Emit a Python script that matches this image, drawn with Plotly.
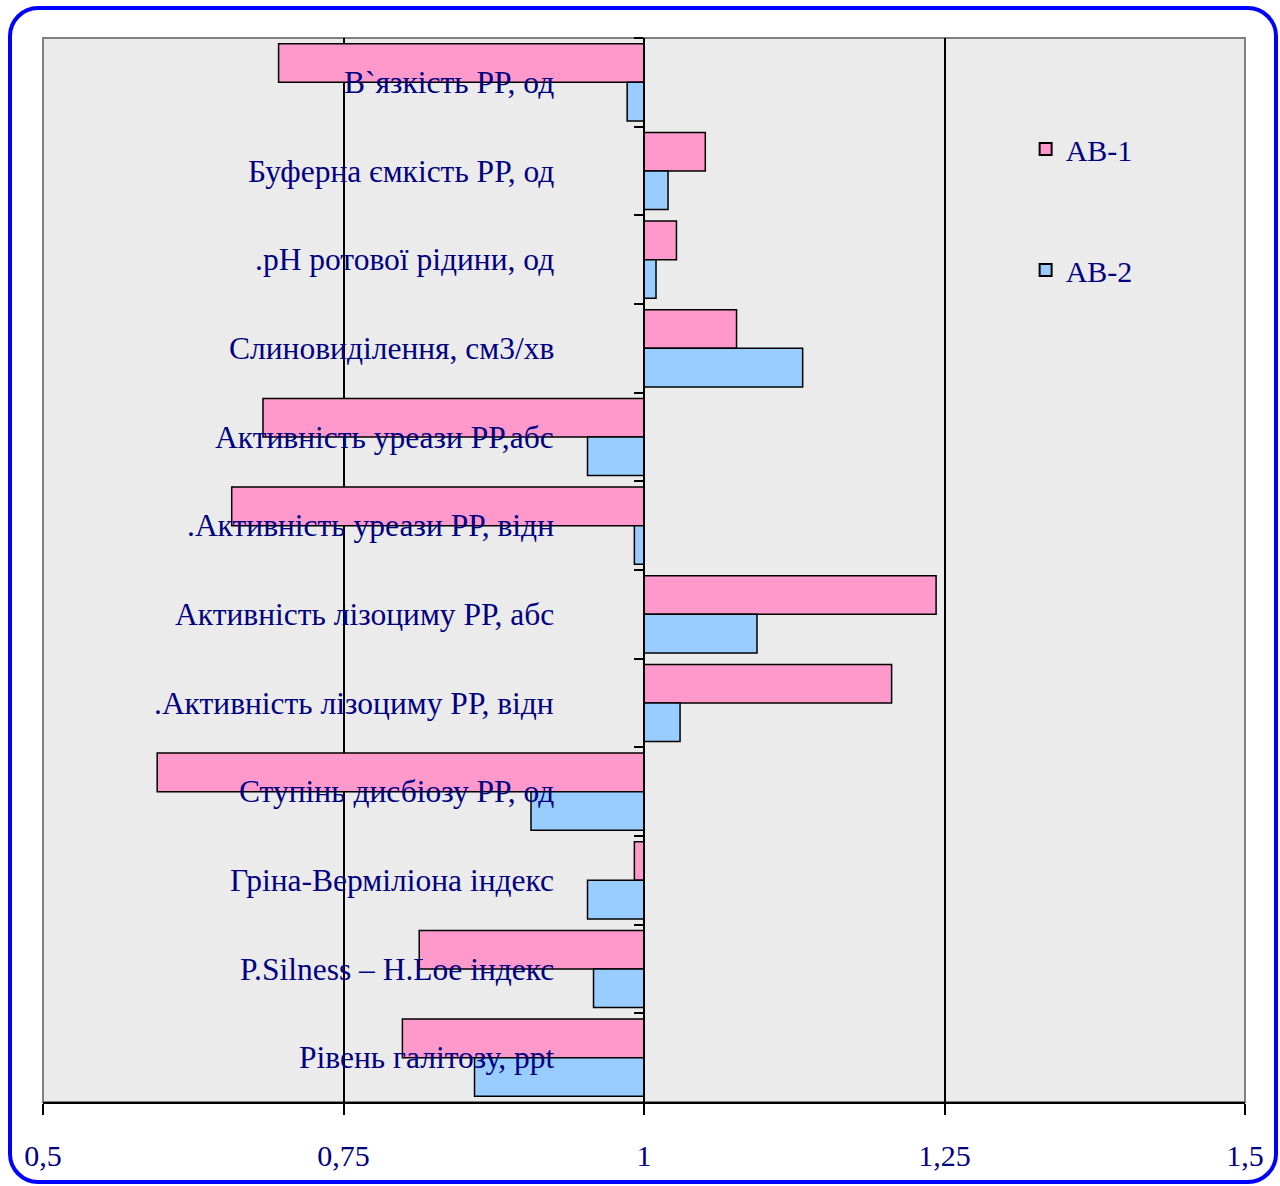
import plotly.graph_objects as go

categories = [
    "В`язкість РР, од",
    "Буферна ємкість РР, од",
    ".pH ротової рідини, од",
    "Слиновиділення, см3/хв",
    "Активність уреази РР,абс",
    ".Активність уреази РР, відн",
    "Активність лізоциму РР, абс",
    ".Активність лізоциму РР, відн",
    "Ступінь дисбіозу РР, од",
    "Гріна-Верміліона індекс",
    "P.Silness – H.Loe індекс",
    "Рівень галітозу, ppt",
]
ab1 = [0.696, 1.051, 1.027, 1.077, 0.683, 0.657, 1.243, 1.206, 0.595, 0.992, 0.813, 0.799]
ab2 = [0.986, 1.020, 1.010, 1.132, 0.953, 0.992, 1.094, 1.030, 0.906, 0.953, 0.958, 0.859]
series_names = ["AB-1", "AB-2"]
x_ticks = [0.5, 0.75, 1, 1.25, 1.5]
x_tick_text = ["0,5", "0,75", "1", "1,25", "1,5"]

BASE = 1.0
FONT = "Liberation Serif, Times New Roman, serif"
NAVY = "#000080"

fig = go.Figure()
for name, vals, col, grp in [(series_names[0], ab1, "#FF99CC", "g1"),
                             (series_names[1], ab2, "#99CCFF", "g2")]:
    fig.add_trace(go.Bar(
        y=categories, x=[v - BASE for v in vals], base=BASE, orientation="h",
        name=name, legendgroup=grp,
        marker=dict(color=col, line=dict(color="black", width=1.5)),
    ))

W, H = 1280, 1186
ml, mr, mt, mb = 43, 35, 38, 84
pw, ph = W - ml - mr, H - mt - mb

def px(x):
    return (x - ml) / pw

def py(y):
    return (H - mb - y) / ph

# rounded blue frame
x0, x1, y0, y1, r = 10, 1276, 8, 1182, 28
k = 0.45
path = (f"M {px(x0 + r)},{py(y0)} L {px(x1 - r)},{py(y0)} "
        f"C {px(x1 - r * k)},{py(y0)} {px(x1)},{py(y0 + r * k)} {px(x1)},{py(y0 + r)} "
        f"L {px(x1)},{py(y1 - r)} "
        f"C {px(x1)},{py(y1 - r * k)} {px(x1 - r * k)},{py(y1)} {px(x1 - r)},{py(y1)} "
        f"L {px(x0 + r)},{py(y1)} "
        f"C {px(x0 + r * k)},{py(y1)} {px(x0)},{py(y1 - r * k)} {px(x0)},{py(y1 - r)} "
        f"L {px(x0)},{py(y0 + r)} "
        f"C {px(x0)},{py(y0 + r * k)} {px(x0 + r * k)},{py(y0)} {px(x0 + r)},{py(y0)} Z")

shapes = [
    dict(type="path", path=path, xref="paper", yref="paper",
         line=dict(color="#0000FF", width=4), layer="above"),
    dict(type="rect", xref="paper", yref="paper", x0=0, x1=1, y0=0, y1=1,
         line=dict(color="#808080", width=2), layer="below"),
]

annotations = [
    dict(x=BASE, y=c, xref="x", yref="y", text=c, showarrow=False,
         xanchor="right", xshift=-88, font=dict(family=FONT, size=31.5, color=NAVY))
    for c in categories
]

fig.update_layout(
    width=W, height=H,
    margin=dict(l=ml, r=mr, t=mt, b=mb),
    paper_bgcolor="white",
    plot_bgcolor="#EBEBEB",
    barmode="group",
    bargap=0.13,
    bargroupgap=0,
    font=dict(family=FONT, color=NAVY),
    shapes=shapes,
    annotations=annotations,
    legend=dict(x=0.8175, y=0.92, xanchor="left", yanchor="top",
                bgcolor="rgba(0,0,0,0)", font=dict(family=FONT, size=30, color=NAVY),
                tracegroupgap=79, itemsizing="constant"),
    xaxis=dict(range=[0.5, 1.5], tickvals=x_ticks, ticktext=x_tick_text,
               showgrid=True, gridcolor="black", gridwidth=1.5, zeroline=False,
               showline=True, linecolor="black", linewidth=2,
               ticks="outside", ticklen=11, tickcolor="black", tickwidth=1.5,
               tickfont=dict(family=FONT, size=30, color=NAVY),
               ticklabelstandoff=15),
    yaxis=dict(autorange="reversed", anchor="free", position=0.5,
               showticklabels=False, showgrid=False, zeroline=False,
               showline=True, linecolor="black", linewidth=2,
               ticks="outside", tickson="boundaries", ticklen=9,
               tickcolor="black", tickwidth=1.5),
)

fig.write_html("out.html")
